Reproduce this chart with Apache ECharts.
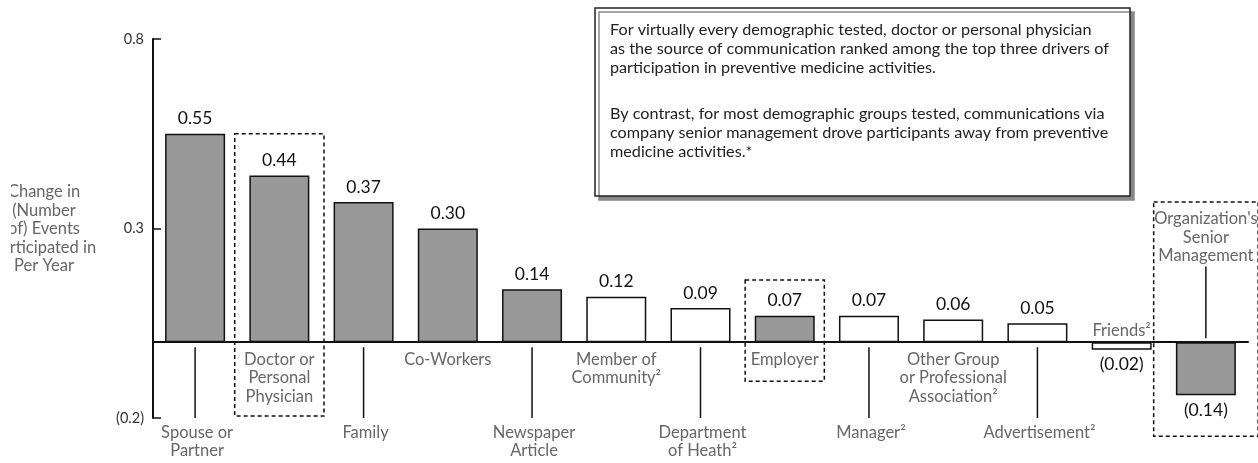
<!DOCTYPE html>
<html><head><meta charset="utf-8">
<script src="https://cdn.jsdelivr.net/npm/echarts@6/dist/echarts.min.js"></script>
<style>html,body{margin:0;padding:0;background:#fff}#c{width:1258px;height:463px}</style>
</head><body><div id="c"></div>
<script>
// ---- data ----
const categories = ['Spouse or\nPartner', 'Doctor or\nPersonal\nPhysician', 'Family', 'Co-Workers',
  'Newspaper\nArticle', 'Member of\nCommunity²', 'Department\nof Heath²', 'Employer', 'Manager²',
  'Other Group\nor Professional\nAssociation²', 'Advertisement²', 'Friends²', "Organization's\nSenior\nManagement"];
const values = [0.55, 0.44, 0.37, 0.30, 0.14, 0.12, 0.09, 0.07, 0.07, 0.06, 0.05, -0.02, -0.14];
const footnote2 = [false, false, false, false, false, true, true, false, true, true, true, true, false];
const yTickValues = [-0.2, 0.3, 0.8];
const yAxisTitle = 'Change in\n(Number\nof) Events\nParticipated in\nPer Year';
const noteParagraph1 = 'For virtually every demographic tested, doctor or personal physician\nas the source of communication ranked among the top three drivers of\nparticipation in preventive medicine activities.';
const noteParagraph2 = 'By contrast, for most demographic groups tested, communications via\ncompany senior management drove participants away from preventive\nmedicine activities.*';

// ---- layout (not data) ----
const labelPlace = ['low', 'mid', 'low', 'mid', 'low', 'mid', 'low', 'mid', 'low', 'mid', 'low', 'above', 'aboveLine'];
const boxes = [ // [category index, top value, bottom value, half width in bands]
  [1, 0.55, -0.195, 0.53],
  [7, 0.164, -0.103, 0.47],
  [12, 0.37, -0.248, 0.62]
];

const FONT = 'Lato, "DejaVu Sans", sans-serif';
const chart = echarts.init(document.getElementById('c'), null, {renderer: 'canvas'});

const fmt = v => v < 0 ? '(' + Math.abs(v).toFixed(2) + ')' : v.toFixed(2);

chart.setOption({
  backgroundColor: '#ffffff',
  animation: false,
  grid: {left: 153, right: 10, top: 39, bottom: 45},
  xAxis: {
    type: 'category',
    data: categories,
    axisLine: {onZero: true, lineStyle: {color: '#111', width: 2}},
    axisTick: {show: false},
    axisLabel: {show: false},
    splitLine: {show: false}
  },
  yAxis: {
    type: 'value',
    min: -0.2, max: 0.8,
    axisLine: {show: true, lineStyle: {color: '#111', width: 2}},
    axisTick: {show: true, inside: true, length: 8, lineStyle: {color: '#111', width: 1.5}, customValues: yTickValues},
    axisLabel: {
      customValues: yTickValues, margin: 9, color: '#333', fontFamily: FONT, fontSize: 14.5,
      formatter: v => v < 0 ? '(' + Math.abs(v).toFixed(1) + ')' : v.toFixed(1)
    },
    splitLine: {show: false}
  },
  series: [
    {
      type: 'bar',
      barWidth: 60,
      data: values.map((v, i) => ({
        value: v,
        itemStyle: {color: footnote2[i] ? '#ffffff' : '#999999', borderColor: '#111', borderWidth: 1.5},
        label: {position: v < 0 ? 'bottom' : 'top'}
      })),
      label: {
        show: true,
        distance: 6,
        color: '#111',
        fontFamily: FONT,
        fontSize: 17.5,
        formatter: p => fmt(p.value)
      },
      z: 2
    },
    {
      type: 'custom',
      silent: true,
      clip: false,
      z: 3,
      data: categories.map((c, i) => [i, values[i]]),
      renderItem: (params, api) => {
        const i = api.value(0);
        const base = api.coord([i, 0]);
        const x = base[0], y0 = base[1];
        const yLow = api.coord([i, -0.2])[1];
        const place = labelPlace[i];
        const ts = {text: categories[i], fill: '#666', font: '16.5px ' + FONT, align: 'center', lineHeight: 18.5};
        const children = [];
        if (place === 'low') {
          children.push({type: 'line', shape: {x1: x, y1: y0 + 5, x2: x, y2: yLow}, style: {stroke: '#111', lineWidth: 1.5}});
          children.push({type: 'text', style: Object.assign({}, ts, {x: x + 2, y: yLow + 5, verticalAlign: 'top'})});
        } else if (place === 'mid') {
          children.push({type: 'text', style: Object.assign({}, ts, {x: x, y: y0 + 8, verticalAlign: 'top'})});
        } else if (place === 'above') {
          children.push({type: 'text', style: Object.assign({}, ts, {x: x, y: y0 - 2, verticalAlign: 'bottom'})});
        } else {
          const yTop = api.coord([i, 0.2])[1];
          children.push({type: 'line', shape: {x1: x, y1: y0 - 4, x2: x, y2: yTop}, style: {stroke: '#111', lineWidth: 1.5}});
          children.push({type: 'text', style: Object.assign({}, ts, {x: x, y: yTop - 1, verticalAlign: 'bottom'})});
        }
        return {type: 'group', children: children};
      }
    },
    {
      type: 'custom',
      silent: true,
      clip: false,
      z: 4,
      data: boxes,
      renderItem: (params, api) => {
        const i = api.value(0);
        const band = api.size([1, 0])[0];
        const c = api.coord([i, api.value(1)]);
        const b = api.coord([i, api.value(2)]);
        const hw = band * api.value(3);
        return {
          type: 'rect',
          shape: {x: c[0] - hw, y: c[1], width: hw * 2, height: b[1] - c[1]},
          style: {fill: 'none', stroke: '#111', lineWidth: 1.5, lineDash: [4, 3]}
        };
      }
    }
  ],
  graphic: [
    {
      type: 'text', x: 44, y: 229, z: 10,
      style: {text: yAxisTitle, fill: '#666', font: '16.5px ' + FONT, align: 'center', verticalAlign: 'middle', lineHeight: 18.5}
    },
    {type: 'rect', x: 0, y: 150, z: 11, shape: {width: 11, height: 160}, style: {fill: '#ffffff'}},
    {
      type: 'rect', x: 595, y: 8, z: 10,
      shape: {width: 535, height: 188},
      style: {fill: '#ffffff', stroke: '#222', lineWidth: 1.5, shadowColor: '#888', shadowOffsetX: 4, shadowOffsetY: 4, shadowBlur: 0}
    },
    {
      type: 'text', x: 610, y: 20, z: 11,
      style: {text: noteParagraph1, fill: '#222', font: '16.2px ' + FONT, lineHeight: 19, verticalAlign: 'top'}
    },
    {
      type: 'text', x: 610, y: 104, z: 11,
      style: {text: noteParagraph2, fill: '#222', font: '16.2px ' + FONT, lineHeight: 19, verticalAlign: 'top'}
    }
  ]
});
</script></body></html>
